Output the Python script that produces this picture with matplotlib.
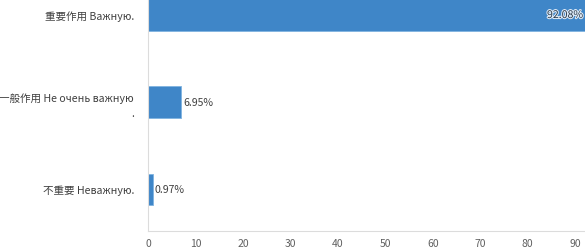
import matplotlib
matplotlib.use('Agg')
import matplotlib.pyplot as plt
import matplotlib.patheffects as pe
import numpy as np

plt.rcParams['font.family'] = ['Noto Sans CJK SC', 'DejaVu Sans']

categories = ['重要作用 Важную.', '一般作用 Не очень важную\n.', '不重要 Неважную.']
values = [92.08, 6.95, 0.97]
value_labels = ['92.08%', '6.95%', '0.97%']
x_ticks = [0, 10, 20, 30, 40, 50, 60, 70, 80, 90]

bar_color = '#3f86c8'
text_color = '#404040'

fig = plt.figure(figsize=(5.85, 2.53), dpi=100)
ax = fig.add_axes([148 / 585, 21 / 253, 1 - 148 / 585, 232 / 253])

y = np.arange(len(categories))
ax.barh(y, values, height=0.36, color=bar_color, edgecolor='#7fb3e0', linewidth=0.6)

ax.set_ylim(2.48, -0.184)
ax.set_xlim(0, 92.1)
ax.set_yticks(y)
ax.set_yticklabels(categories, fontsize=7.6, color=text_color, ha='right', ma='right',
                   linespacing=1.6)
ax.set_xticks(x_ticks)
ax.set_xticklabels([str(t) for t in x_ticks], fontsize=7.5, color='#606060')
ax.tick_params(axis='both', length=0)
ax.tick_params(axis='y', pad=10)
ax.tick_params(axis='x', pad=5)

for side in ['top', 'right']:
    ax.spines[side].set_visible(False)
for side in ['left', 'bottom']:
    ax.spines[side].set_color('#dcdcdc')
    ax.spines[side].set_linewidth(0.8)

for i, (v, lab) in enumerate(zip(values, value_labels)):
    if v > 50:
        ax.text(v - 0.4, i, lab, ha='right', va='center', fontsize=7.6, color='#2a3a4a',
                path_effects=[pe.withStroke(linewidth=1.5, foreground='#dce8f5')])
    else:
        ax.text(v + 0.5, i, lab, ha='left', va='center', fontsize=7.6, color=text_color)

fig.savefig('out.png', dpi=100)
